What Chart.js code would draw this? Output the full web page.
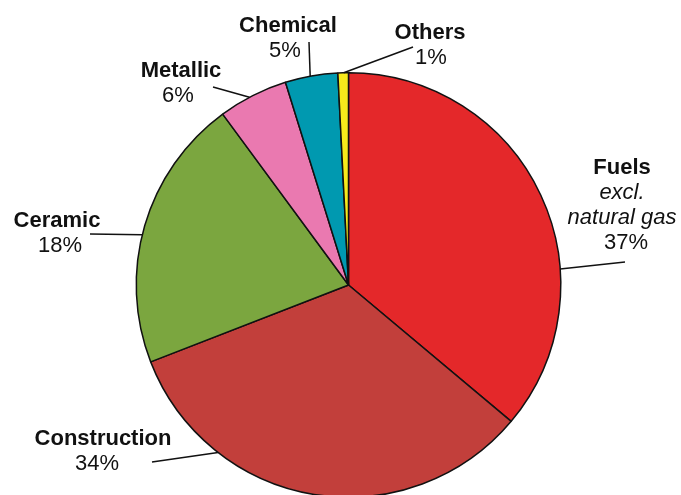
<!DOCTYPE html>
<html>
<head>
<meta charset="utf-8">
<script src="https://cdn.jsdelivr.net/npm/chart.js@4/dist/chart.umd.min.js"></script>
<style>
  html, body { margin: 0; padding: 0; background: #fff; overflow: hidden; }
  #wrap { position: absolute; left: 0; top: 0; width: 681px; height: 500px; }
</style>
</head>
<body>
<div id="wrap"><canvas id="pieChart"></canvas></div>
<script>
// slice shares as drawn in the picture (printed labels are rounded differently)
const categories = ['Fuels', 'Construction', 'Ceramic', 'Metallic', 'Chemical', 'Others'];
const shares = [36.1, 33.0, 20.8, 5.3, 4.0, 0.8];
const pctLabels = ['37%', '34%', '18%', '6%', '5%', '1%'];
const colors = ['#e4282a', '#c23f3b', '#7ba63f', '#ea79b0', '#0099b0', '#f7ea1b'];

// label placement: x/px = centre of name / percent line, y = first baseline,
// ang = where the leader touches the rim (deg, canvas angle), end = other end of leader
const labelLayout = [
    { x: 622, px: 626, y: 174, sub: ['excl.', 'natural gas'], ang: -4.3, end: [625, 262] },
    { x: 103, px: 97, y: 445, ang: 127.9, end: [152, 462] },
    { x: 57, px: 60, y: 227, ang: 193.7, end: [90, 234] },
    { x: 181, px: 178, y: 77, ang: -117.8, end: [213, 87] },
    { x: 288, px: 285, y: 32, ang: -100.4, end: [309, 42] },
    { x: 430, px: 431, y: 39, ang: -91.3, end: [413, 47] }
];

const FONT = '"Liberation Sans", Arial, sans-serif';
const LINE_H = 25;

const labelPlugin = {
    id: 'pieLabels',
    afterDraw(chart) {
        const ctx = chart.ctx;
        const arc = chart.getDatasetMeta(0).data[0];
        const cx = arc.x, cy = arc.y, r = arc.outerRadius;
        ctx.save();
        ctx.strokeStyle = '#111';
        ctx.lineWidth = 1.5;
        ctx.fillStyle = '#111';
        ctx.textAlign = 'center';
        ctx.textBaseline = 'alphabetic';
        labelLayout.forEach(function (lb, i) {
            const a = lb.ang * Math.PI / 180;
            ctx.beginPath();
            ctx.moveTo(cx + Math.cos(a) * r, cy + Math.sin(a) * r);
            ctx.lineTo(lb.end[0], lb.end[1]);
            ctx.stroke();

            let y = lb.y;
            ctx.font = 'bold 22px ' + FONT;
            ctx.fillText(categories[i], lb.x, y);
            if (lb.sub) {
                ctx.font = 'italic 22px ' + FONT;
                lb.sub.forEach(function (s) {
                    y += LINE_H;
                    ctx.fillText(s, lb.x, y);
                });
            }
            y += LINE_H;
            ctx.font = '22px ' + FONT;
            ctx.fillText(pctLabels[i], lb.px, y);
        });
        ctx.restore();
    }
};

const ctx = document.getElementById('pieChart').getContext('2d');
new Chart(ctx, {
    type: 'pie',
    data: {
        labels: categories,
        datasets: [{
            data: shares,
            backgroundColor: colors,
            borderColor: '#111',
            borderWidth: 1.5,
            borderAlign: 'center'
        }]
    },
    options: {
        responsive: true,
        maintainAspectRatio: false,
        animation: false,
        layout: { padding: { left: 135, right: 119, top: 72, bottom: 2 } },
        plugins: {
            legend: { display: false },
            tooltip: { enabled: false }
        }
    },
    plugins: [labelPlugin]
});
</script>
</body>
</html>
